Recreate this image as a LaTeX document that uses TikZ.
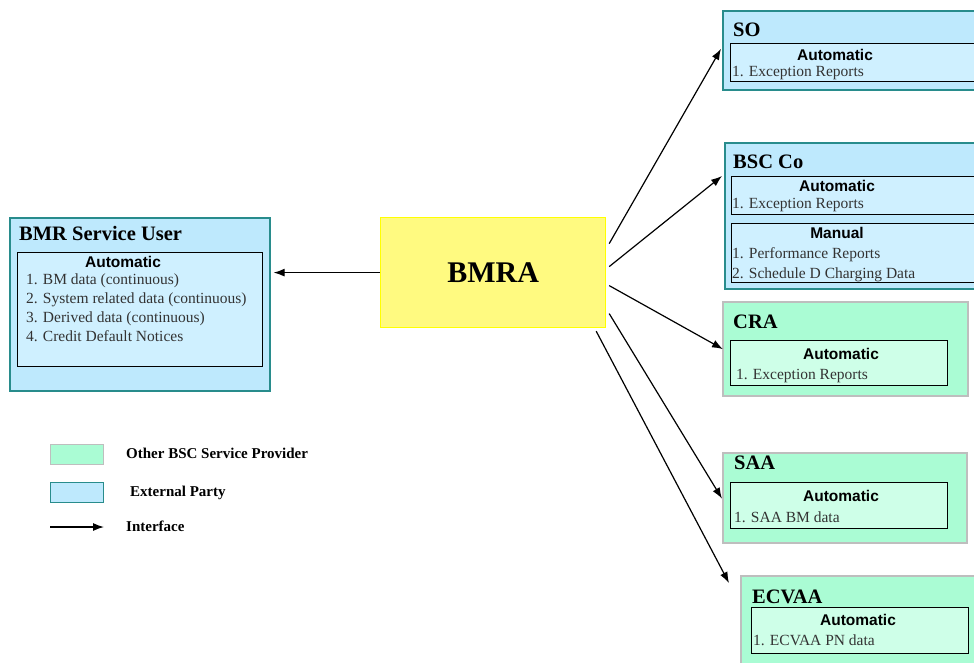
\documentclass[tikz,border=0pt]{standalone}
\usepackage{fontspec}
\setmainfont{Liberation Serif}
\newfontfamily\arialf{Liberation Sans}
\usetikzlibrary{arrows.meta}
\definecolor{bluefill}{RGB}{190,233,253}
\definecolor{blueinner}{RGB}{207,240,255}
\definecolor{tealline}{RGB}{40,140,140}
\definecolor{greenfill}{RGB}{170,252,212}
\definecolor{greeninner}{RGB}{206,255,232}
\definecolor{grayline}{RGB}{190,190,190}
\definecolor{ylfill}{RGB}{255,250,128}
\definecolor{ylline}{RGB}{255,255,0}
\tikzset{
  outerB/.style={draw=tealline, line width=1.6pt, fill=bluefill, anchor=north west, inner sep=0pt},
  outerG/.style={draw=grayline, line width=1.6pt, fill=greenfill, anchor=north west, inner sep=0pt},
  innerB/.style={draw=black, line width=1.3pt, fill=blueinner, anchor=north west, inner sep=0pt},
  innerG/.style={draw=black, line width=1.3pt, fill=greeninner, anchor=north west, inner sep=0pt},
  ttl/.style={anchor=base west, inner sep=0pt, font=\fontsize{20.5}{22}\selectfont\bfseries},
  hdr/.style={anchor=base, inner sep=0pt, font=\arialf\fontsize{15.5}{17}\selectfont\bfseries},
  itm/.style={anchor=base west, inner sep=0pt, text=black!80, font=\fontsize{15.5}{17}\selectfont},
  lgd/.style={anchor=base west, inner sep=0pt, font=\fontsize{15}{17}\selectfont\bfseries},
  conn/.style={-{Latex[length=11pt,width=8pt]}, line width=1.2pt},
}
\begin{document}
\begin{tikzpicture}[x=1pt,y=-1pt]
\useasboundingbox (0,0) rectangle (974,662);
\clip (0,0) rectangle (974,662);

% BMRA
\node[draw=ylline, line width=1.2pt, fill=ylfill, anchor=north west, inner sep=0pt,
  minimum width=225pt, minimum height=110pt] (bmra) at (380,217) {};
\node[font=\fontsize{30}{34}\selectfont\bfseries] (bmratxt) at (bmra.center) {BMRA};

% BMR Service User
\node[outerB, minimum width=260pt, minimum height=173pt] (bmrsu) at (9,217) {};
\node[innerB, minimum width=245pt, minimum height=114pt] (bmrsuin) at (17,252) {};
\node[ttl] (bmrsut) at (19,240) {BMR Service User};
\node[hdr] (bmrsuh) at (123,267) {Automatic};
\node[itm] (bmrsu1) at (26,284) {1. BM data (continuous)};
\node[itm] (bmrsu2) at (26,303) {2. System related data (continuous)};
\node[itm] (bmrsu3) at (26,322) {3. Derived data (continuous)};
\node[itm] (bmrsu4) at (26,341) {4. Credit Default Notices};

% SO
\node[outerB, minimum width=270pt, minimum height=79pt] (so) at (722,10) {};
\node[innerB, minimum width=260pt, minimum height=38pt] (soin) at (730,43) {};
\node[ttl] (sot) at (733,36) {SO};
\node[hdr] (soh) at (835,60) {Automatic};
\node[itm] (so1) at (732,76) {1. Exception Reports};

% BSC Co
\node[outerB, minimum width=270pt, minimum height=146pt] (bsc) at (724,142) {};
\node[innerB, minimum width=260pt, minimum height=38pt] (bscin1) at (731,176) {};
\node[innerB, minimum width=260pt, minimum height=59pt] (bscin2) at (731,223) {};
\node[ttl] (bsct) at (733,168) {BSC Co};
\node[hdr] (bsch1) at (837,191) {Automatic};
\node[itm] (bsc1) at (732,208) {1. Exception Reports};
\node[hdr] (bsch2) at (837,238) {Manual};
\node[itm] (bsc2) at (732,258) {1. Performance Reports};
\node[itm] (bsc3) at (732,278) {2. Schedule D Charging Data};

% CRA
\node[outerG, minimum width=245pt, minimum height=94pt] (cra) at (722,301) {};
\node[innerG, minimum width=217pt, minimum height=45pt] (crain) at (730,340) {};
\node[ttl] (crat) at (733,328) {CRA};
\node[hdr] (crah) at (841,359) {Automatic};
\node[itm] (cra1) at (736,379) {1. Exception Reports};

% SAA
\node[outerG, minimum width=244pt, minimum height=90pt] (saa) at (722,452) {};
\node[innerG, minimum width=217pt, minimum height=46pt] (saain) at (730,482) {};
\node[ttl] (saat) at (734,469) {SAA};
\node[hdr] (saah) at (841,501) {Automatic};
\node[itm] (saa1) at (734,522) {1. SAA BM data};

% ECVAA
\node[outerG, minimum width=250pt, minimum height=100pt] (ecv) at (740,575) {};
\node[innerG, minimum width=217pt, minimum height=46pt] (ecvin) at (751,607) {};
\node[ttl] (ecvt) at (752,603) {ECVAA};
\node[hdr] (ecvh) at (858,625) {Automatic};
\node[itm] (ecv1) at (753,645) {1. ECVAA PN data};

% connectors
\draw[conn] (bmra.west) -- ([xshift=3pt]bmra.west -| bmrsu.east);
\draw[conn] ([xshift=3pt,yshift=29pt]bmra.east) -- ([xshift=-1pt,yshift=1.5pt]so.west);
\draw[conn] ([xshift=3pt,yshift=6pt]bmra.east) -- ([xshift=-9pt]bscin1.north west);
\draw[conn] ([xshift=3pt,yshift=-13pt]bmra.east) -- ([xshift=-7pt,yshift=14pt]crain.west);
\draw[conn] ([xshift=3pt,yshift=-41pt]bmra.east) -- ([xshift=-8pt,yshift=7pt]saain.west);
\draw[conn] ([xshift=-10pt,yshift=-3pt]bmra.south east) -- ([xshift=-11pt,yshift=-8pt]ecv.north west);

% legend
\node[draw=grayline, line width=1.3pt, fill=greenfill, anchor=north west, inner sep=0pt,
  minimum width=53pt, minimum height=20pt] (lg1) at (50,444) {};
\node[lgd] (lg1t) at (126,458) {Other BSC Service Provider};
\node[draw=tealline, line width=1.3pt, fill=bluefill, anchor=north west, inner sep=0pt,
  minimum width=53pt, minimum height=20pt] (lg2) at (50,482) {};
\node[lgd] (lg2t) at (130,496) {External Party};
\coordinate (lg3a) at (50,527);
\coordinate (lg3b) at (104,527);
\draw[conn] (lg3a) -- (lg3b);
\node[lgd] (lg3t) at (126,531) {Interface};
\end{tikzpicture}
\end{document}
